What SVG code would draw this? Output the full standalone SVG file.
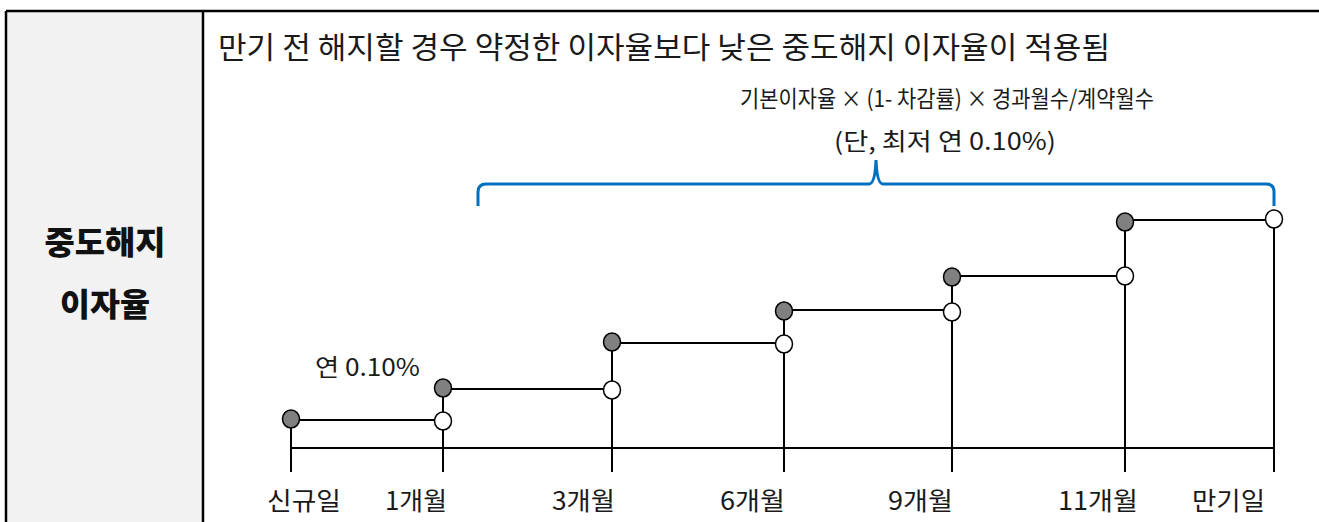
<svg xmlns="http://www.w3.org/2000/svg" width="1319" height="522" viewBox="0 0 1319 522">
<style>
  text { font-family: "Noto Sans CJK KR", "Noto Sans", sans-serif; fill: #1a1a1a; }
  .title { font-size: 30px; }
  .formula { font-size: 23px; }
  .note { font-size: 24px; }
  .axislbl { font-size: 25px; }
  .head { font-size: 32px; font-weight: 800; fill: #111; }
  .ln { stroke: #000; stroke-width: 2; fill: none; }
  .brace { stroke: #0070c0; stroke-width: 3; fill: none; stroke-linecap: butt; }
  .on { fill: #808080; stroke: #000; stroke-width: 1.5; }
  .off { fill: #fff; stroke: #000; stroke-width: 1.5; }
  .border { stroke: #000; stroke-width: 2.5; fill: none; }
</style>
<rect x="0" y="0" width="1319" height="522" fill="#fff"/>
<g id="table">
  <rect x="6" y="11" width="197" height="511" fill="#f2f2f2"/>
  <line class="border" x1="6" y1="11" x2="1319" y2="11"/>
  <line class="border" x1="6" y1="11" x2="6" y2="522"/>
  <line class="border" x1="203" y1="11" x2="203" y2="522"/>
</g>
<g id="header">
  <text class="head" x="105" y="254" text-anchor="middle" textLength="121" lengthAdjust="spacingAndGlyphs">중도해지</text>
  <text class="head" x="105" y="316" text-anchor="middle" textLength="90" lengthAdjust="spacingAndGlyphs">이자율</text>
</g>
<g id="title">
  <text class="title" x="218" y="58" textLength="892" lengthAdjust="spacingAndGlyphs">만기 전 해지할 경우 약정한 이자율보다 낮은 중도해지 이자율이 적용됨</text>
</g>
<g id="formula">
  <text class="formula" x="740" y="107" textLength="414" lengthAdjust="spacingAndGlyphs">기본이자율 × (1- 차감률) × 경과월수/계약월수</text>
  <text class="note" x="834" y="150" textLength="222" lengthAdjust="spacingAndGlyphs">(단, 최저 연 0.10%)</text>
</g>
<g id="bracket">
  <path class="brace" d="M478,206 L478,192 Q478,184 486,184 L869,184 Q875,184 876,160 Q877,184 883,184 L1266,184 Q1274,184 1274,192 L1274,206"/>
</g>
<g id="connectors">
  <line class="ln" x1="291" y1="448" x2="1274" y2="448"/>
  <line class="ln" x1="291" y1="419" x2="291" y2="472"/>
  <line class="ln" x1="443" y1="388" x2="443" y2="472"/>
  <line class="ln" x1="612" y1="342" x2="612" y2="472"/>
  <line class="ln" x1="784" y1="311" x2="784" y2="472"/>
  <line class="ln" x1="952" y1="277" x2="952" y2="472"/>
  <line class="ln" x1="1125" y1="222" x2="1125" y2="472"/>
  <line class="ln" x1="1274" y1="219" x2="1274" y2="472"/>
  <line class="ln" x1="291" y1="420" x2="443" y2="420"/>
  <line class="ln" x1="443" y1="389" x2="612" y2="389"/>
  <line class="ln" x1="612" y1="343" x2="784" y2="343"/>
  <line class="ln" x1="784" y1="310" x2="952" y2="310"/>
  <line class="ln" x1="952" y1="276" x2="1125" y2="276"/>
  <line class="ln" x1="1125" y1="220" x2="1274" y2="220"/>
</g>
<g id="dots">
  <g id="d0"><ellipse class="on" cx="291" cy="419" rx="8.5" ry="9"/></g>
  <g id="d1"><ellipse class="off" cx="443" cy="421" rx="8.5" ry="9"/><ellipse class="on" cx="443" cy="388" rx="8.5" ry="9"/></g>
  <g id="d3"><ellipse class="off" cx="612" cy="390" rx="8.5" ry="9"/><ellipse class="on" cx="612" cy="342" rx="8.5" ry="9"/></g>
  <g id="d6"><ellipse class="off" cx="784" cy="344" rx="8.5" ry="9"/><ellipse class="on" cx="784" cy="311" rx="8.5" ry="9"/></g>
  <g id="d9"><ellipse class="off" cx="952" cy="312" rx="8.5" ry="9"/><ellipse class="on" cx="952" cy="277" rx="8.5" ry="9"/></g>
  <g id="d11"><ellipse class="off" cx="1125" cy="276" rx="8.5" ry="9"/><ellipse class="on" cx="1125" cy="222" rx="8.5" ry="9"/></g>
  <g id="dend"><ellipse class="off" cx="1274" cy="219" rx="8.5" ry="9"/></g>
</g>
<g id="min-label">
  <text class="note" x="315" y="376" textLength="105" lengthAdjust="spacingAndGlyphs">연 0.10%</text>
</g>
<g id="axis-labels">
  <text class="axislbl" x="267" y="510" textLength="74" lengthAdjust="spacingAndGlyphs">신규일</text>
  <text class="axislbl" x="385" y="510" textLength="62" lengthAdjust="spacingAndGlyphs">1개월</text>
  <text class="axislbl" x="552" y="510" textLength="63" lengthAdjust="spacingAndGlyphs">3개월</text>
  <text class="axislbl" x="720" y="510" textLength="65" lengthAdjust="spacingAndGlyphs">6개월</text>
  <text class="axislbl" x="888" y="510" textLength="65" lengthAdjust="spacingAndGlyphs">9개월</text>
  <text class="axislbl" x="1058" y="510" textLength="80" lengthAdjust="spacingAndGlyphs">11개월</text>
  <text class="axislbl" x="1192" y="510" textLength="73" lengthAdjust="spacingAndGlyphs">만기일</text>
</g>
</svg>
